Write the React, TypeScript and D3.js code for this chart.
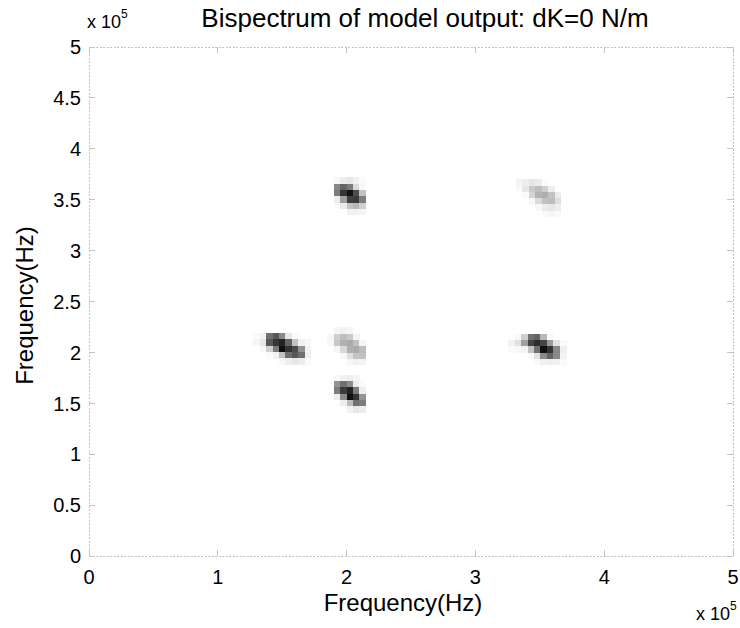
import React from 'react';
import * as d3 from 'd3';

// ---------- data ----------
const xTickValues = [0, 100000, 200000, 300000, 400000, 500000];
const xTickLabels = ['0', '1', '2', '3', '4', '5'];
const yTickValues = [0, 50000, 100000, 150000, 200000, 250000, 300000, 350000, 400000, 450000, 500000];
const yTickLabels = ['0', '0.5', '1', '1.5', '2', '2.5', '3', '3.5', '4', '4.5', '5'];
const titleText = 'Bispectrum of model output: dK=0 N/m';
const xLabelText = 'Frequency(Hz)';
const yLabelText = 'Frequency(Hz)';

// frequency bin size (Hz)
const binWidth = 5000;
const binHeight = 6200;

// each blob: centre of its darkest bin (Hz), offsets of first column / row, normalised magnitudes (rows top -> bottom)
const blobA = {
  cx: 202500, cy: 356500, colStart: -2, rowStart: -2,
  values: [
    [0.03, 0.08, 0.1, 0.06, 0.02],
    [0.5, 0.65, 0.55, 0.15, 0.03],
    [0.55, 0.85, 1.0, 0.75, 0.25],
    [0.08, 0.4, 0.8, 0.82, 0.55],
    [0.02, 0.08, 0.25, 0.3, 0.2],
    [0, 0, 0.06, 0.06, 0.04],
  ],
};
const blobB = {
  cx: 354000, cy: 354600, colStart: -4, rowStart: -2,
  values: [
    [0.04, 0.07, 0.1, 0.08, 0.02, 0, 0],
    [0.02, 0.1, 0.22, 0.27, 0.2, 0.07, 0],
    [0, 0.02, 0.18, 0.32, 0.34, 0.25, 0.08],
    [0, 0, 0.03, 0.15, 0.26, 0.28, 0.14],
    [0, 0, 0, 0.03, 0.08, 0.1, 0.07],
    [0, 0, 0, 0, 0.02, 0.04, 0.02],
  ],
};
const blobC = {
  cx: 150000, cy: 203500, colStart: -4, rowStart: -2,
  values: [
    [0.02, 0.05, 0.6, 0.7, 0.5, 0.1, 0.02, 0, 0],
    [0.04, 0.1, 0.7, 0.85, 0.92, 0.65, 0.25, 0.06, 0.03],
    [0, 0.03, 0.2, 0.55, 1.0, 0.85, 0.75, 0.45, 0.06],
    [0, 0, 0.02, 0.05, 0.25, 0.6, 0.7, 0.6, 0.07],
    [0, 0, 0, 0, 0.03, 0.07, 0.1, 0.08, 0.02],
  ],
};
const blobD = {
  cx: 202500, cy: 203000, colStart: -3, rowStart: -3,
  values: [
    [0, 0.04, 0.06, 0.04, 0.01, 0],
    [0.04, 0.2, 0.27, 0.22, 0.05, 0],
    [0.03, 0.24, 0.33, 0.35, 0.26, 0.04],
    [0, 0.04, 0.16, 0.33, 0.35, 0.28],
    [0, 0, 0.03, 0.14, 0.25, 0.26],
    [0, 0, 0, 0.03, 0.06, 0.05],
  ],
};
const blobE = {
  cx: 353000, cy: 203000, colStart: -5, rowStart: -2,
  values: [
    [0.01, 0.03, 0.2, 0.6, 0.65, 0.3, 0.03, 0, 0],
    [0.06, 0.12, 0.4, 0.78, 0.88, 0.78, 0.42, 0.12, 0.02],
    [0.02, 0.03, 0.05, 0.25, 0.6, 1.0, 0.85, 0.5, 0.07],
    [0, 0, 0, 0.02, 0.12, 0.5, 0.65, 0.5, 0.05],
    [0, 0, 0, 0, 0.02, 0.06, 0.07, 0.06, 0.02],
  ],
};
const blobF = {
  cx: 202500, cy: 156500, colStart: -2, rowStart: -3,
  values: [
    [0.03, 0.06, 0.07, 0.04, 0],
    [0.45, 0.6, 0.48, 0.08, 0.02],
    [0.55, 0.82, 0.92, 0.55, 0.07],
    [0.07, 0.5, 1.0, 0.85, 0.45],
    [0.01, 0.07, 0.28, 0.6, 0.55],
    [0, 0, 0.05, 0.1, 0.08],
  ],
};
const blobs = [blobA, blobB, blobC, blobD, blobE, blobF];

// ---------- chart ----------
const FONT = '"Liberation Sans", Arial, Helvetica, sans-serif';

export default function App() {
  const W = 740;
  const H = 628;
  const left = 89, right = 733, top = 47, bottom = 556;
  const x = d3.scaleLinear().domain([0, 500000]).range([left, right]);
  const y = d3.scaleLinear().domain([0, 500000]).range([bottom, top]);
  const color = d3.scaleLinear<string>().domain([0, 1]).range(['#ffffff', '#101010']);

  const cells: { x: number; y: number; w: number; h: number; v: number }[] = [];
  blobs.forEach((b) => {
    b.values.forEach((row, ri) => {
      row.forEach((v, ci) => {
        if (v <= 0) return;
        const fx = b.cx + (b.colStart + ci) * binWidth;
        const fy = b.cy - (b.rowStart + ri) * binHeight;
        const x0 = x(fx - binWidth / 2);
        const x1 = x(fx + binWidth / 2);
        const y0 = y(fy + binHeight / 2);
        const y1 = y(fy - binHeight / 2);
        cells.push({ x: x0, y: y0, w: x1 - x0, h: y1 - y0, v });
      });
    });
  });

  const axisColor = '#c4c4c4';
  const tickLen = 6;

  return (
    <svg
      width={W}
      height={H}
      style={{ position: 'absolute', left: 0, top: 0, background: '#fff' }}
      fontFamily={FONT}
    >
      <rect x={0} y={0} width={W} height={H} fill="#fff" />
      <g shapeRendering="crispEdges">
        {cells.map((c, i) => (
          <rect key={i} x={c.x} y={c.y} width={c.w + 0.3} height={c.h + 0.3} fill={color(c.v)} />
        ))}
      </g>

      {/* frame */}
      <g stroke={axisColor} strokeWidth={1} fill="none" strokeDasharray="2 1.5" shapeRendering="crispEdges">
        <line x1={left} y1={top} x2={right} y2={top} />
        <line x1={left} y1={bottom} x2={right} y2={bottom} />
        <line x1={left} y1={top} x2={left} y2={bottom} />
        <line x1={right} y1={top} x2={right} y2={bottom} />
      </g>
      {/* ticks */}
      <g stroke={axisColor} strokeWidth={1} shapeRendering="crispEdges">
        {xTickValues.map((t, i) => (
          <g key={'xt' + i}>
            <line x1={x(t)} x2={x(t)} y1={bottom} y2={bottom - tickLen} />
            <line x1={x(t)} x2={x(t)} y1={top} y2={top + tickLen} />
          </g>
        ))}
        {yTickValues.map((t, i) => (
          <g key={'yt' + i}>
            <line x1={left} x2={left + tickLen} y1={y(t)} y2={y(t)} />
            <line x1={right} x2={right - tickLen} y1={y(t)} y2={y(t)} />
          </g>
        ))}
      </g>

      {/* tick labels */}
      <g fontSize={20} fill="#000">
        {xTickValues.map((t, i) => (
          <text key={'xl' + i} x={x(t)} y={584} textAnchor="middle">
            {xTickLabels[i]}
          </text>
        ))}
        {yTickValues.map((t, i) => (
          <text key={'yl' + i} x={81} y={y(t)} dy="0.36em" textAnchor="end">
            {yTickLabels[i]}
          </text>
        ))}
      </g>

      {/* exponent labels */}
      <text x={87} y={28} fontSize={18} fill="#000">
        x 10
        <tspan dy={-10} fontSize={12}>5</tspan>
      </text>
      <text x={696} y={620} fontSize={18} fill="#000">
        x 10
        <tspan dy={-10} fontSize={12}>5</tspan>
      </text>

      {/* title */}
      <text x={425} y={27} fontSize={26} textAnchor="middle" fill="#000">
        {titleText}
      </text>

      {/* axis labels */}
      <text x={(left + right) / 2 - 8} y={611} fontSize={24} textAnchor="middle" fill="#000">
        {xLabelText}
      </text>
      <text
        transform={`translate(33, ${(top + bottom) / 2 + 4}) rotate(-90)`}
        fontSize={24}
        textAnchor="middle"
        fill="#000"
      >
        {yLabelText}
      </text>
    </svg>
  );
}
